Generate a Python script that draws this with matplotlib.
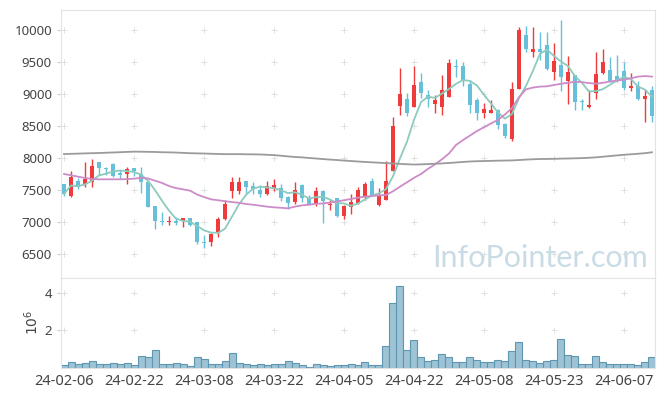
import numpy as np
import pandas as pd
import matplotlib
matplotlib.use('Agg')
import matplotlib.pyplot as plt

plt.rcParams['font.family'] = ['Noto Sans', 'DejaVu Sans']

# daily candles (KRW), 2024-02-06 .. 2024-06-13
opens = [7590, 7410, 7640, 7600, 7620, 7930, 7850, 7910, 7760, 7750,
         7840, 7750, 7630, 7250, 7020, 7000, 7010, 7010, 7060, 7000,
         6690, 6690, 6830, 7040, 7490, 7490, 7640, 7560, 7500, 7440,
         7520, 7530, 7390, 7320, 7580, 7370, 7300, 7480, 7260, 7370,
         7100, 7240, 7300, 7400, 7640, 7270, 7340, 7800, 8810, 8920,
         8800, 9180, 8980, 8850, 8790, 8960, 9440, 9430, 9160, 8900,
         8700, 8710, 8750, 8530, 8300, 9080, 9920, 9660, 9710, 9770,
         9350, 9450, 9210, 9300, 8880, 8800, 9010, 9320, 9380, 9280,
         9360, 9100, 9130, 8920, 9060]
highs = [7600, 7800, 7680, 7940, 7980, 7930, 7860, 7920, 7810, 7860,
         7850, 7860, 7660, 7250, 7160, 7100, 7080, 7070, 7070, 7000,
         6800, 6830, 7080, 7350, 7700, 7700, 7640, 7630, 7580, 7640,
         7670, 7590, 7400, 7620, 7590, 7420, 7540, 7500, 7340, 7380,
         7270, 7440, 7540, 7620, 7680, 7530, 7950, 8640, 9400, 9010,
         9440, 9320, 9060, 8980, 9300, 9540, 9540, 9500, 9220, 8930,
         8860, 8910, 8760, 8540, 9190, 10050, 10060, 10050, 9970, 9970,
         9790, 10160, 9590, 9300, 8920, 9060, 9660, 9700, 9570, 9610,
         9500, 9320, 9210, 9060, 9120]
lows = [7410, 7390, 7510, 7550, 7550, 7730, 7730, 7710, 7670, 7600,
        7720, 7460, 7230, 6890, 6950, 6950, 6960, 6920, 6940, 6660,
        6590, 6620, 6770, 7030, 7370, 7440, 7450, 7440, 7390, 7420,
        7490, 7330, 7200, 7280, 7320, 7270, 7250, 6990, 7180, 7080,
        7040, 7120, 7280, 7340, 7400, 7250, 7340, 7800, 8670, 8650,
        8790, 8930, 8800, 8700, 8670, 8950, 9270, 9120, 8700, 8590,
        8620, 8700, 8460, 8310, 8270, 9080, 9660, 9570, 9530, 9380,
        9220, 9040, 8850, 8750, 8750, 8780, 8920, 9310, 9190, 9180,
        9060, 9040, 8910, 8570, 8570]
closes = [7440, 7700, 7540, 7670, 7880, 7850, 7830, 7720, 7740, 7830,
          7790, 7620, 7240, 7010, 7000, 7020, 6990, 7060, 6950, 6680,
          6670, 6810, 7040, 7280, 7620, 7630, 7550, 7520, 7440, 7560,
          7580, 7380, 7300, 7500, 7370, 7280, 7490, 7330, 7280, 7100,
          7250, 7310, 7500, 7600, 7410, 7420, 7640, 8500, 9000, 8710,
          9140, 9020, 8920, 8900, 9060, 9490, 9420, 9220, 8830, 8700,
          8760, 8750, 8520, 8340, 9070, 10000, 9700, 9710, 9660, 9390,
          9510, 9270, 9350, 8870, 8870, 8830, 9310, 9500, 9210, 9220,
          9100, 9130, 8920, 8970, 8660]
# volume, millions of shares
volume = [0.12, 0.28, 0.17, 0.23, 0.35, 0.17, 0.17, 0.23, 0.17, 0.23,
          0.12, 0.60, 0.55, 0.95, 0.17, 0.17, 0.23, 0.17, 0.10, 0.55,
          0.46, 0.17, 0.17, 0.33, 0.77, 0.23, 0.17, 0.12, 0.17, 0.12,
          0.17, 0.17, 0.33, 0.23, 0.12, 0.05, 0.20, 0.15, 0.10, 0.15,
          0.15, 0.20, 0.15, 0.28, 0.15, 0.15, 1.16, 3.47, 4.40, 0.95,
          1.48, 0.57, 0.35, 0.41, 0.71, 0.57, 0.28, 0.28, 0.57, 0.41,
          0.28, 0.28, 0.41, 0.35, 0.89, 1.38, 0.41, 0.35, 0.23, 0.35,
          0.41, 1.54, 0.66, 0.62, 0.20, 0.20, 0.62, 0.28, 0.20, 0.20,
          0.20, 0.20, 0.14, 0.28, 0.57]
# 20-day and long moving averages as drawn
ma20 = [7750, 7730, 7708, 7688, 7672, 7667, 7667, 7667, 7667, 7670,
        7677, 7690, 7680, 7646, 7610, 7562, 7530, 7510, 7490, 7430,
        7390, 7354, 7340, 7325, 7312, 7300, 7281, 7270, 7255, 7240,
        7229, 7222, 7213, 7240, 7260, 7270, 7285, 7290, 7302, 7320,
        7340, 7360, 7380, 7396, 7405, 7415, 7422, 7480, 7552, 7620,
        7690, 7750, 7830, 7900, 7980, 8070, 8203, 8280, 8350, 8422,
        8480, 8540, 8594, 8680, 8780, 8948, 9073, 9100, 9115, 9120,
        9140, 9160, 9175, 9190, 9185, 9170, 9160, 9175, 9195, 9208,
        9225, 9245, 9271, 9280, 9271]
ma_long = [8062, 8065, 8068, 8072, 8075, 8078, 8082, 8086, 8090, 8095,
           8099, 8098, 8096, 8094, 8090, 8088, 8085, 8080, 8075, 8072,
           8070, 8066, 8063, 8060, 8060, 8060, 8058, 8057, 8055, 8050,
           8045, 8035, 8025, 8015, 8010, 8000, 7992, 7983, 7975, 7968,
           7960, 7952, 7945, 7938, 7932, 7926, 7920, 7914, 7908, 7902,
           7898, 7900, 7905, 7910, 7915, 7922, 7930, 7938, 7945, 7950,
           7952, 7955, 7958, 7960, 7962, 7968, 7975, 7980, 7984, 7985,
           7987, 7990, 7992, 7995, 7998, 8003, 8010, 8020, 8030, 8040,
           8050, 8058, 8066, 8075, 8089]
date_ticks = ['24-02-06', '24-02-22', '24-03-08', '24-03-22', '24-04-05',
              '24-04-22', '24-05-08', '24-05-23', '24-06-07']
price_ticks = [6500, 7000, 7500, 8000, 8500, 9000, 9500, 10000]
vol_ticks = [2, 4]

df = pd.DataFrame({'open': opens, 'high': highs, 'low': lows,
                   'close': closes, 'vol': volume})
df['ma5'] = df['close'].rolling(5, min_periods=1).mean()
x = np.arange(len(df))
tick_pos = np.arange(0, len(df), 10)[:len(date_ticks)]

up_c, down_c = '#ef3b3b', '#67c0da'
colors = [up_c if c >= o else down_c for o, c in zip(df['open'], df['close'])]

fig = plt.figure(figsize=(6.65, 3.96), dpi=100)
ax1 = fig.add_axes([61 / 665, 118 / 396, 594 / 665, 268 / 396])
ax2 = fig.add_axes([61 / 665, 28.5 / 396, 594 / 665, 89.5 / 396], sharex=ax1)

# candles
ax1.vlines(x, df['low'], df['high'], colors=colors, linewidth=1.0, zorder=2)
body_lo = np.minimum(df['open'], df['close'])
body_h = np.maximum(np.abs(df['close'] - df['open']), 20)
ax1.bar(x, body_h, bottom=body_lo, width=0.7, color=colors, zorder=3)

# moving averages
ax1.plot(x, df['ma5'], color='#8ccbbe', lw=1.3, zorder=4)
ax1.plot(x, ma20, color='#cc8cc8', lw=1.3, zorder=4)
ax1.plot(x, ma_long, color='#9b9b9b', lw=1.3, zorder=4)

ax1.text(0.988, 0.04, 'InfoPointer.com', transform=ax1.transAxes,
         ha='right', va='baseline', fontsize=22, family='Lato',
         color='#c9dce6', zorder=1)

# volume
ax2.bar(x, df['vol'], width=1.0, color='#9dc3d4', edgecolor='#5f97b2',
        linewidth=0.8)

ax1.set_xlim(-0.43, 84.43)
ax1.set_ylim(6125, 10312)
ax2.set_ylim(0, 4.83)

ax1.set_yticks(price_ticks)
ax2.set_yticks(vol_ticks)
ax2.set_xticks(tick_pos)
ax2.set_xticklabels(date_ticks)
ax2.set_ylabel(r'$10^6$', fontsize=10, color='#444444', labelpad=2)

# cross-shaped grid marks
for ax, yt in ((ax1, price_ticks), (ax2, vol_ticks)):
    gx, gy = np.meshgrid(tick_pos, yt)
    ax.scatter(gx.ravel(), gy.ravel(), marker='+', s=18, color='#e0e0e0',
               linewidths=0.7, zorder=0)
    for s in ax.spines.values():
        s.set_color('#e3e3e3')
    ax.tick_params(colors='#444444', labelsize=9.5, length=3, width=0.8)
    ax.tick_params(axis='y', color='#d0d0d0')
    ax.tick_params(axis='x', length=0, pad=5, labelsize=10.5)

plt.setp(ax1.get_xticklabels(), visible=False)

fig.savefig('out.png', dpi=100)
